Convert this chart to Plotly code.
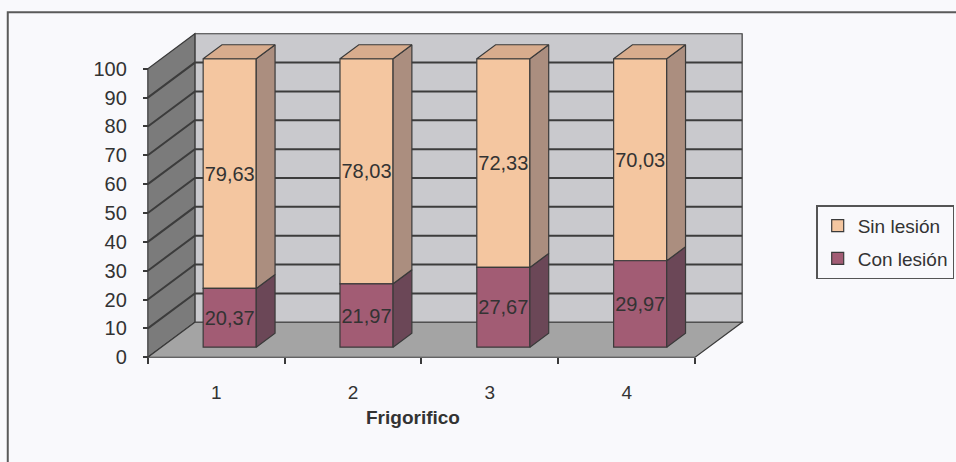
import plotly.graph_objects as go

# --- data -------------------------------------------------------------
categories = [1, 2, 3, 4]
category_labels = ["1", "2", "3", "4"]
con_lesion = [20.37, 21.97, 27.67, 29.97]
sin_lesion = [79.63, 78.03, 72.33, 70.03]
y_ticks = [0, 10, 20, 30, 40, 50, 60, 70, 80, 90, 100]

# --- geometry of the pseudo-3D box (axis units) -----------------------
W, H = 956, 462
PXU = 136.75          # px per category unit
PYU = 2.885           # px per value unit
DX = 47 / PXU         # depth offset, x
DY = 35 / PYU         # depth offset, y
F0, F1 = 0.286, 0.686 # front / back planes of the columns (fraction of depth)
BAR_W = 0.388
X0, X1 = 0.5, 4.5
VMAX = 100
ORIGIN_PX = (148, 357)  # pixel position of the front axis origin

PADX, PADY = 0.05, 2.0
XLO, XHI = X0 - PADX, X1 + DX + PADX
YLO, YHI = -PADY, VMAX + DY + PADY
plot_w = (XHI - XLO) * PXU
plot_h = (YHI - YLO) * PYU
m_l = ORIGIN_PX[0] - PADX * PXU
m_b = H - ORIGIN_PX[1] - PADY * PYU
m_r = W - m_l - plot_w
m_t = H - m_b - plot_h

FONT = "Liberation Sans, Arial, sans-serif"
TXT = "#333333"
EDGE = "#3a3a3a"
BG = "#f9f9fc"

SIN_FRONT, SIN_SIDE, SIN_TOP = "#f4c6a0", "#ab8e7f", "#d8ac8d"
CON_FRONT, CON_SIDE = "#a25c74", "#6b4757"


def px_to_paper(px, py):
    return (px - m_l) / plot_w, (H - m_b - py) / plot_h


def poly(points):
    return "M " + " L ".join(f"{x},{y}" for x, y in points) + " Z"


shapes = []
# back wall
shapes.append(dict(type="path", xref="x", yref="y", layer="below",
                   path=poly([(X0 + DX, DY), (X1 + DX, DY), (X1 + DX, VMAX + DY), (X0 + DX, VMAX + DY)]),
                   fillcolor="#c9c9cd", line=dict(color=EDGE, width=1.2)))
# left wall
shapes.append(dict(type="path", xref="x", yref="y", layer="below",
                   path=poly([(X0, 0), (X0 + DX, DY), (X0 + DX, VMAX + DY), (X0, VMAX)]),
                   fillcolor="#7b7b7b", line=dict(color=EDGE, width=1.2)))
# floor
shapes.append(dict(type="path", xref="x", yref="y", layer="below",
                   path=poly([(X0, 0), (X1, 0), (X1 + DX, DY), (X0 + DX, DY)]),
                   fillcolor="#a4a4a4", line=dict(color=EDGE, width=1.2)))
# gridlines on left and back walls
for v in y_ticks[1:-1]:
    shapes.append(dict(type="path", xref="x", yref="y", layer="below",
                       path=f"M {X0},{v} L {X0 + DX},{v + DY} L {X1 + DX},{v + DY}",
                       line=dict(color="#3c3c3c", width=2)))

# outer frame
fx0, fy0 = px_to_paper(8, 468)
fx1, fy1 = px_to_paper(962, 12)
shapes.append(dict(type="rect", xref="paper", yref="paper", layer="below",
                   x0=fx0, y0=fy0, x1=fx1, y1=fy1,
                   line=dict(color="#5a5a5a", width=2), fillcolor="rgba(0,0,0,0)"))

fig = go.Figure()

# front faces of the stacked columns
series = [
    ("Sin lesión", sin_lesion, con_lesion, SIN_FRONT),
    ("Con lesión", con_lesion, [0] * len(categories), CON_FRONT),
]
for name, vals, bases, color in series:
    fig.add_trace(go.Bar(
        name=name,
        legendgroup=name,
        x=[c + F0 * DX for c in categories],
        y=vals,
        base=[b + F0 * DY for b in bases],
        width=BAR_W,
        marker=dict(color=color, line=dict(color=EDGE, width=1.2)),
        texttemplate="%{y:.2f}",
        textposition="inside",
        insidetextanchor="middle",
        textangle=0,
        constraintext="none",
        textfont=dict(family=FONT, size=20, color=TXT),
        hoverinfo="skip",
    ))


def side_faces(vals, bases):
    xs, ys = [], []
    for c, v, b in zip(categories, vals, bases):
        xr = c + BAR_W / 2
        pts = [(xr + F0 * DX, b + F0 * DY), (xr + F1 * DX, b + F1 * DY),
               (xr + F1 * DX, b + v + F1 * DY), (xr + F0 * DX, b + v + F0 * DY),
               (xr + F0 * DX, b + F0 * DY)]
        xs += [p[0] for p in pts] + [None]
        ys += [p[1] for p in pts] + [None]
    return xs, ys


def top_faces(vals, bases):
    xs, ys = [], []
    for c, v, b in zip(categories, vals, bases):
        xl, xr, t = c - BAR_W / 2, c + BAR_W / 2, b + v
        pts = [(xl + F0 * DX, t + F0 * DY), (xr + F0 * DX, t + F0 * DY),
               (xr + F1 * DX, t + F1 * DY), (xl + F1 * DX, t + F1 * DY),
               (xl + F0 * DX, t + F0 * DY)]
        xs += [p[0] for p in pts] + [None]
        ys += [p[1] for p in pts] + [None]
    return xs, ys


for vals, bases, color in [(con_lesion, [0] * 4, CON_SIDE), (sin_lesion, con_lesion, SIN_SIDE)]:
    sx, sy = side_faces(vals, bases)
    fig.add_trace(go.Scatter(x=sx, y=sy, mode="lines", fill="toself", fillcolor=color,
                             line=dict(color=EDGE, width=1.2), showlegend=False, hoverinfo="skip"))

tx, ty = top_faces(sin_lesion, con_lesion)
fig.add_trace(go.Scatter(x=tx, y=ty, mode="lines", fill="toself", fillcolor=SIN_TOP,
                         line=dict(color=EDGE, width=1.2), showlegend=False, hoverinfo="skip"))

lx, ly = px_to_paper(816, 205)
title_x, title_y = px_to_paper(413, 417)

fig.update_layout(
    width=W, height=H, autosize=False,
    margin=dict(l=m_l, r=m_r, t=m_t, b=m_b, pad=0, autoexpand=False),
    paper_bgcolor=BG, plot_bgcolor=BG,
    barmode="overlay",
    separators=",.",
    font=dict(family=FONT, color=TXT),
    shapes=shapes,
    showlegend=True,
    legend=dict(x=lx, y=ly, xanchor="left", yanchor="top", traceorder="grouped",
                bgcolor=BG, bordercolor="#555555", borderwidth=1.5,
                itemwidth=30, tracegroupgap=5,
                font=dict(family=FONT, size=19, color=TXT)),
    annotations=[dict(text="<b>Frigorifico</b>", xref="paper", yref="paper",
                      x=title_x, y=title_y, xanchor="center", yanchor="middle",
                      showarrow=False,
                      font=dict(family=FONT, size=19, color=TXT))],
    xaxis=dict(range=[XLO, XHI], showgrid=False, zeroline=False, showline=False,
               tickvals=categories, ticktext=category_labels, ticks="",
               tickfont=dict(family=FONT, size=19, color=TXT),
               ticklabelstandoff=22,
               anchor="free", position=(0 - YLO) / (YHI - YLO),
               minor=dict(tickvals=[0.5, 1.5, 2.5, 3.5, 4.5], ticks="outside",
                          ticklen=6, tickwidth=1.5, tickcolor=EDGE, showgrid=False)),
    yaxis=dict(range=[YLO, YHI], showgrid=False, zeroline=False, showline=False,
               tickvals=y_ticks, ticks="outside", ticklen=5, tickwidth=1.5, tickcolor=EDGE,
               tickfont=dict(family=FONT, size=20, color=TXT),
               ticklabelstandoff=12,
               anchor="free", position=(X0 - XLO) / (XHI - XLO)),
)

fig.write_html("out.html")
